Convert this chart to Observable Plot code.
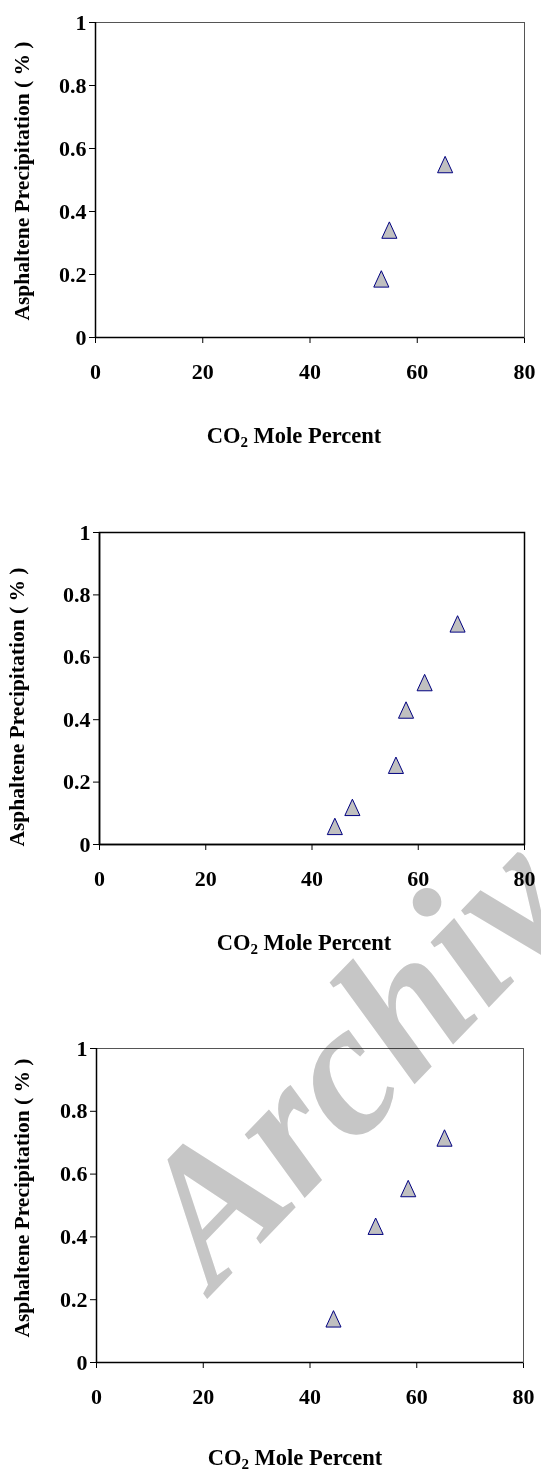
<!DOCTYPE html>
<html>
<head>
<meta charset="utf-8">
<script src="https://cdn.jsdelivr.net/npm/d3@7"></script>
<script src="https://cdn.jsdelivr.net/npm/@observablehq/plot@0.6"></script>
<style>
  html, body { margin: 0; padding: 0; background: white; }
  #page { position: relative; width: 541px; height: 1470px; overflow: hidden; background: white; }
  .panel { position: absolute; left: 0; width: 541px; }
  .panel svg { overflow: visible; }
  #wm { position: absolute; left: 0; top: 0; mix-blend-mode: multiply; pointer-events: none; }
</style>
</head>
<body>
<div id="page"></div>
<script>
// ---- data ----
const xTicks = [0, 20, 40, 60, 80];
const yTicks = [0, 0.2, 0.4, 0.6, 0.8, 1];
const xTitleMain = "CO";
const xTitleSub = "2";
const xTitleRest = " Mole Percent";
const yTitle = "Asphaltene Precipitation ( % )";
const watermarkText = "Archive";

const panel1X = [53.3, 54.8, 65.2];
const panel1Y = [0.186, 0.341, 0.549];
const panel2X = [44.3, 47.6, 55.8, 57.7, 61.2, 67.4];
const panel2Y = [0.058, 0.119, 0.254, 0.431, 0.519, 0.707];
const panel3X = [44.4, 52.3, 58.4, 65.2];
const panel3Y = [0.139, 0.434, 0.554, 0.715];

// ---- layout ----
const FONT = "'Liberation Serif', 'Times New Roman', 'DejaVu Serif', serif";
const panels = [
  {xs: panel1X, ys: panel1Y, top: 0,   mt: 22, mb: 153, ml: 95, mr: 17, frame: "#555", frameW: 1,   titleX: 294, titleY: 443, yLabX: 22, yLabY: 181},
  {xs: panel2X, ys: panel2Y, top: 490, mt: 42, mb: 136, ml: 99, mr: 17, frame: "#000", frameW: 1.5, titleX: 304, titleY: 460, yLabX: 17, yLabY: 217},
  {xs: panel3X, ys: panel3Y, top: 980, mt: 68, mb: 108, ml: 96, mr: 18, frame: "#555", frameW: 1,   titleX: 295, titleY: 485, yLabX: 22, yLabY: 218}
];

// isosceles triangle marker centred on its bounding box (spreadsheet style)
const triangle = {
  draw(context, size) {
    const s = Math.sqrt(size / Math.PI);
    const w = 0.92 * s, h = s;
    context.moveTo(0, -h);
    context.lineTo(w, h);
    context.lineTo(-w, h);
    context.closePath();
  }
};

const page = document.getElementById("page");

panels.forEach(p => {
  const data = p.xs.map((x, i) => ({x, y: p.ys[i]}));
  const chart = Plot.plot({
    width: 541,
    height: 490,
    marginTop: p.mt,
    marginBottom: p.mb,
    marginLeft: p.ml,
    marginRight: p.mr,
    style: {fontFamily: FONT, fontSize: "22px", fontWeight: "bold", color: "black", background: "transparent", overflow: "visible"},
    x: {domain: [0, 80], ticks: xTicks, tickSize: 6, tickPadding: 20, label: null},
    y: {domain: [0, 1], ticks: yTicks, tickFormat: d => String(d), tickSize: 6, tickPadding: 3, label: null},
    marks: [
      Plot.frame({stroke: p.frame, strokeWidth: p.frameW}),
      Plot.ruleX([0], {stroke: "black", strokeWidth: 1.5}),
      Plot.ruleY([0], {stroke: "black", strokeWidth: 1.5}),
      Plot.dot(data, {x: "x", y: "y", symbol: triangle, r: 8.2, fill: "#c0c0c0", stroke: "#000080", strokeWidth: 1})
    ]
  });
  const holder = document.createElement("div");
  holder.className = "panel";
  holder.style.top = p.top + "px";
  holder.appendChild(chart);
  page.appendChild(holder);

  const svg = d3.select(chart);
  const t = svg.append("text")
    .attr("x", p.titleX).attr("y", p.titleY)
    .attr("text-anchor", "middle")
    .attr("font-family", FONT).attr("font-size", 22.5).attr("font-weight", "bold").attr("fill", "black");
  t.append("tspan").text(xTitleMain);
  t.append("tspan").attr("font-size", 15).attr("dy", 4).text(xTitleSub);
  t.append("tspan").attr("dy", -4).text(xTitleRest);

  svg.append("text")
    .attr("transform", `translate(${p.yLabX},${p.yLabY}) rotate(-90)`)
    .attr("text-anchor", "middle").attr("dominant-baseline", "central")
    .attr("font-family", FONT).attr("font-size", 21.5).attr("font-weight", "bold").attr("fill", "black")
    .text(yTitle);
});

// watermark overlay
const wm = d3.select(page).append("svg").attr("id", "wm").attr("width", 541).attr("height", 1470);
wm.append("text")
  .attr("transform", "translate(214,1292) rotate(-46)")
  .attr("font-family", FONT).attr("font-size", 190).attr("font-weight", "bold").attr("font-style", "italic")
  .attr("fill", "#c6c6c6")
  .text(watermarkText);
</script>
</body>
</html>
